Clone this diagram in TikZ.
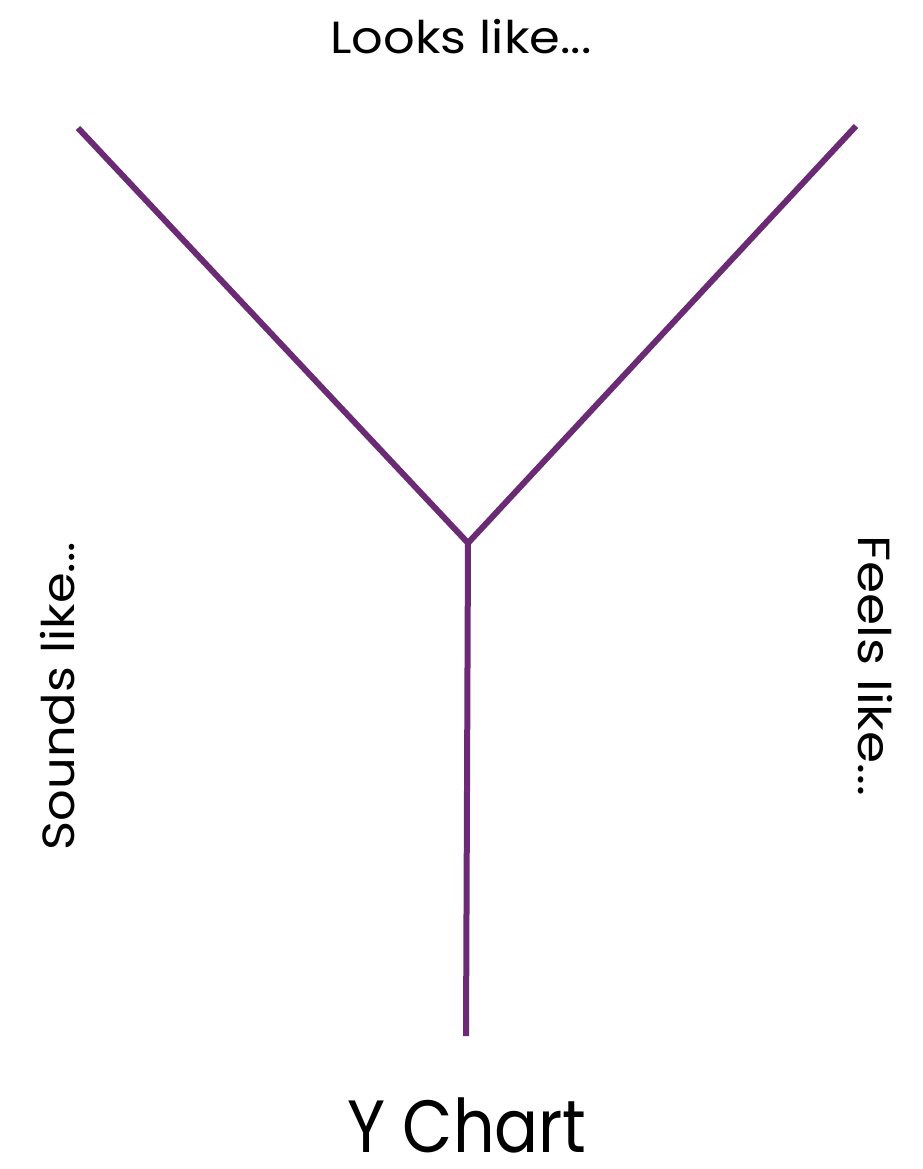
\documentclass[tikz,border=0pt]{standalone}
\usepackage{fontspec}
\setmainfont{Poppins}
\definecolor{ypurple}{HTML}{6B2A74}
\begin{document}
\begin{tikzpicture}[x=1pt,y=-1pt,
  arm/.style={draw=ypurple,line width=6pt,line cap=butt,line join=miter},
  lbl/.style={inner sep=0pt,font=\fontsize{45}{52}\selectfont},
  ttl/.style={inner sep=0pt,text depth=0pt,font=\fontsize{74}{84}\selectfont}]
\useasboundingbox[fill=white] (0,0) rectangle (922,1169);
\coordinate (tl) at (78,128);
\coordinate (tr) at (856,126);
\coordinate (j) at (468,543);
\coordinate (b) at (466,1036);
\draw[arm] (tl) -- (j) -- (tr);
\draw[arm] (j) -- (b);
\node[lbl,anchor=base,xscale=1.1] (looks) at (461,54) {Looks like...};
\node[lbl,rotate=90,xscale=1.1] (sounds) at (58,696) {Sounds like...};
\node[lbl,rotate=-90,xscale=1.15] (feels) at (875,666) {Feels like...};
\node[ttl,anchor=base,xscale=0.88] (title) at (467,1152) {Y Chart};
\end{tikzpicture}
\end{document}
